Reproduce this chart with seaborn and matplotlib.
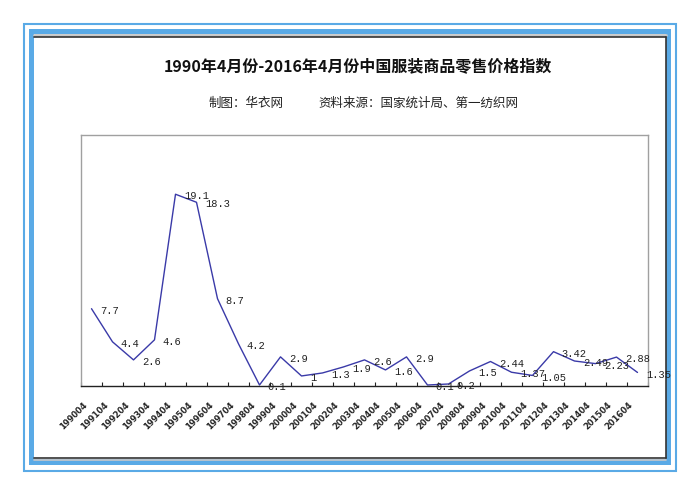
import numpy as np
import pandas as pd
import matplotlib
matplotlib.use("Agg")
import matplotlib.pyplot as plt
from matplotlib.patches import Rectangle
from matplotlib.lines import Line2D
from matplotlib.transforms import ScaledTranslation
import seaborn as sns

years = list(range(1990, 2017))
tick_labels = [f"{y}04" for y in years]
values = [7.7, 4.4, 2.6, 4.6, 19.1, 18.3, 8.7, 4.2, 0.1,
          2.9, 1, 1.3, 1.9, 2.6, 1.6, 2.9, 0.1, 0.2, 1.5,
          2.44, 1.37, 1.05, 3.42, 2.49, 2.23, 2.88, 1.35]
value_labels = ["7.7", "4.4", "2.6", "4.6", "19.1", "18.3", "8.7", "4.2", "0.1",
                "2.9", "1", "1.3", "1.9", "2.6", "1.6", "2.9", "0.1", "0.2", "1.5",
                "2.44", "1.37", "1.05", "3.42", "2.49", "2.23", "2.88", "1.35"]
title = "1990年4月份-2016年4月份中国服装商品零售价格指数"
credit = "制图：华衣网"
source = "资料来源：国家统计局、第一纺织网"

sns.set_style("white")
plt.rcParams['font.family'] = ['Noto Sans CJK SC', 'DejaVu Sans']

W, H = 700, 495
fig = plt.figure(figsize=(7, 4.95), dpi=100)
fig.patch.set_facecolor("white")

def fx(x):
    return x / W

def fy(y):
    return 1 - y / H

blue = "#5aaae6"
fig.patches.append(Rectangle((fx(23.5), fy(471)), fx(676) - fx(23.5), fy(23.5) - fy(471),
                             transform=fig.transFigure, fill=False, ec=blue, lw=1.5, zorder=-3))
fig.patches.append(Rectangle((fx(29), fy(465)), fx(671) - fx(29), fy(29) - fy(465),
                             transform=fig.transFigure, fc=blue, ec="none", zorder=-3))
fig.patches.append(Rectangle((fx(33.5), fy(459)), fx(666) - fx(33.5), fy(33.5) - fy(459),
                             transform=fig.transFigure, fc="white", ec="none", zorder=-2))
fig.lines.append(Line2D([fx(33.5), fx(666)], [fy(35), fy(35)], transform=fig.transFigure,
                        color="#c8c8c8", lw=2, zorder=-1))
fig.lines.append(Line2D([fx(33.5), fx(665.5)], [fy(37), fy(37)], transform=fig.transFigure,
                        color="#333333", lw=1.2, zorder=-1))
fig.lines.append(Line2D([fx(665.5), fx(665.5)], [fy(37), fy(458)], transform=fig.transFigure,
                        color="#333333", lw=1.2, zorder=-1))
fig.lines.append(Line2D([fx(33.5), fx(665.5)], [fy(458), fy(458)], transform=fig.transFigure,
                        color="#333333", lw=1.2, zorder=-1))
fig.lines.append(Line2D([fx(33.5), fx(666)], [fy(460), fy(460)], transform=fig.transFigure,
                        color="#c8c8c8", lw=1.2, zorder=-1))

fig.text(fx(358), fy(66), title, ha="center", va="center", fontsize=11.5, fontweight="bold",
         color="#111111")
fig.text(fx(209), fy(103), credit, ha="left", va="center", fontsize=9, color="#222222")
fig.text(fx(318), fy(103), source, ha="left", va="center", fontsize=9, color="#222222")

ax = fig.add_axes([fx(81), fy(386), fx(648) - fx(81), fy(135) - fy(386)])
ax.set_zorder(1)
ax.set_facecolor("white")
df = pd.DataFrame({"x": np.arange(len(years)), "value": values})
sns.lineplot(data=df, x="x", y="value", ax=ax, color="#3a3aa8", linewidth=1.0)
for ln in ax.lines:
    ln.set_clip_on(False)

ax.set_xlim(-0.5, len(years) - 0.5)
ax.set_ylim(0, 25)
ax.set_xlabel("")
ax.set_ylabel("")
ax.set_yticks([])

for xi, v, lab in zip(range(len(years)), values, value_labels):
    ax.annotate(lab, (xi, v), xytext=(6, -1.5), textcoords="offset points",
                ha="left", va="center", fontsize=7.5, family="Liberation Mono",
                color="#222222", zorder=5, annotation_clip=False)

ax.set_xticks(np.arange(-0.5, len(years), 1.0))
ax.set_xticklabels([])
ax.tick_params(axis="x", which="major", direction="in", length=3, width=0.8, color="#222222",
               bottom=True)
ax.set_xticks(np.arange(len(years)), minor=True)
ax.set_xticklabels(tick_labels, minor=True, rotation=45, ha="right", va="top",
                   rotation_mode="anchor", fontsize=6, fontweight="bold", family="DejaVu Sans")
ax.tick_params(axis="x", which="minor", length=0, pad=12, bottom=True)
shift = ScaledTranslation(-0.09, 0.02, fig.dpi_scale_trans)
for lbl in ax.get_xticklabels(minor=True):
    lbl.set_transform(lbl.get_transform() + shift)

for s in ["top", "right", "left"]:
    ax.spines[s].set_color("#a0a0a0")
    ax.spines[s].set_linewidth(1.0)
ax.spines["bottom"].set_color("#222222")
ax.spines["bottom"].set_linewidth(1.0)

fig.savefig("out.png", dpi=100, facecolor="white")
